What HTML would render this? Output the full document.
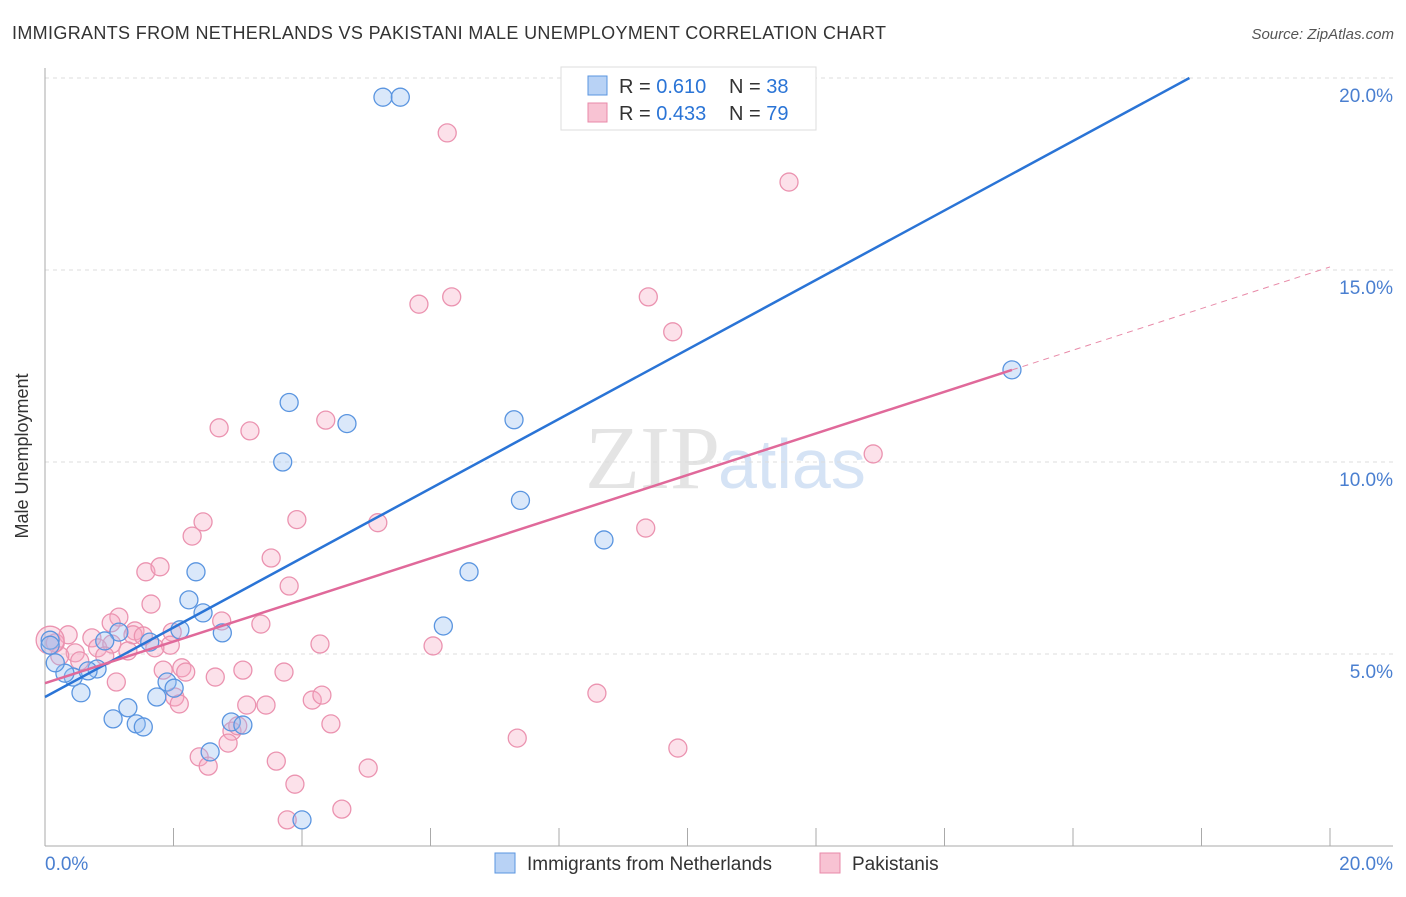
<!DOCTYPE html>
<html><head><meta charset="utf-8"><style>
body{margin:0;background:#fff;font-family:"Liberation Sans",sans-serif;}
</style></head><body>
<svg width="1406" height="892" xmlns="http://www.w3.org/2000/svg" font-family="Liberation Sans, sans-serif">
<text x="12" y="39" font-size="18" fill="#333" textLength="874">IMMIGRANTS FROM NETHERLANDS VS PAKISTANI MALE UNEMPLOYMENT CORRELATION CHART</text>
<text x="1394" y="39" font-size="15" fill="#555" font-style="italic" text-anchor="end">Source: ZipAtlas.com</text>
<text x="720" y="488" font-size="90" fill="#e4e4e4" text-anchor="end" font-family="Liberation Serif, serif">ZIP</text>
<text x="718" y="488" font-size="70" fill="#d5e3f5">atlas</text>
<g id="grid"></g>
<g id="axes"></g>
<g id="points"></g>
<g id="lines"></g>
<text x="28" y="456" font-size="18" fill="#333" text-anchor="middle" transform="rotate(-90 28 456)">Male Unemployment</text>
<g>
<rect x="561" y="67" width="255" height="63" fill="#fff" stroke="#ddd"/>
<rect x="588" y="76" width="19" height="19" fill="#b8d2f5" stroke="#5a95e0"/>
<rect x="588" y="103" width="19" height="19" fill="#f8c3d3" stroke="#e88aa8"/>
<text x="619" y="93" font-size="20" fill="#333">R = <tspan fill="#2a74d6">0.610</tspan></text>
<text x="729" y="93" font-size="20" fill="#333">N = <tspan fill="#2a74d6">38</tspan></text>
<text x="619" y="120" font-size="20" fill="#333">R = <tspan fill="#2a74d6">0.433</tspan></text>
<text x="729" y="120" font-size="20" fill="#333">N = <tspan fill="#2a74d6">79</tspan></text>
</g>
<g>
<rect x="495" y="853" width="20" height="20" fill="#b8d2f5" stroke="#5a95e0"/>
<text x="527" y="870" font-size="19" fill="#333">Immigrants from Netherlands</text>
<rect x="820" y="853" width="20" height="20" fill="#f8c3d3" stroke="#e88aa8"/>
<text x="852" y="870" font-size="19" fill="#333">Pakistanis</text>
</g>
</svg>
<script>
const xTicks=[0,2,4,6,8,10,12,14,16,18,20];
const yTicks=[5,10,15,20];
const blueX=[5.26,5.53,3.8,4.7,3.7,7.3,7.4,8.7,15.05,6.6,6.2,2.35,2.24,2.46,2.76,2.1,1.63,1.15,0.93,0.81,0.44,0.31,0.16,0.08,0.56,1.06,1.29,1.42,1.53,1.74,1.9,2.01,2.9,3.08,2.57,4.0,0.08,0.67];
const blueY=[19.5,19.5,11.55,11.0,10.0,11.1,9.0,7.97,12.4,7.14,5.73,7.14,6.41,6.07,5.55,5.63,5.31,5.57,5.34,4.61,4.4,4.5,4.77,5.36,3.99,3.31,3.6,3.18,3.1,3.88,4.27,4.11,3.23,3.15,2.45,0.68,5.23,4.56];
const pinkX=[6.26,11.58,5.82,6.33,9.39,9.77,4.37,3.19,2.71,12.89,3.92,5.18,9.35,2.46,2.29,3.52,1.57,1.79,3.8,1.65,1.15,1.03,0.73,1.4,1.98,2.75,3.36,1.95,2.13,1.37,1.53,1.71,0.82,1.04,1.29,0.36,0.16,0.47,0.54,0.93,1.84,2.19,3.08,2.65,3.72,1.11,2.02,2.09,3.14,3.44,4.16,4.31,4.28,6.04,8.59,4.45,7.35,9.85,2.91,3.0,2.85,2.4,2.54,3.6,3.89,5.03,4.62,3.77,0.23,0.08];
const pinkY=[18.57,17.29,14.11,14.3,14.3,13.39,11.09,10.81,10.89,10.21,8.5,8.42,8.28,8.44,8.07,7.5,7.14,7.27,6.77,6.3,5.96,5.81,5.42,5.6,5.57,5.86,5.78,5.23,4.64,5.5,5.47,5.16,5.16,5.26,5.08,5.5,5.29,5.03,4.82,4.95,4.58,4.53,4.58,4.4,4.53,4.27,3.88,3.7,3.67,3.67,3.8,3.93,5.26,5.21,3.98,3.18,2.81,2.55,2.99,3.13,2.68,2.32,2.08,2.21,1.61,2.03,0.96,0.68,4.95,5.36];
const blueLine=[3.88,0.905];
const pinkLine=[4.24,0.542];
const X=v=>45+v*64.25, Y=v=>846-v*38.4;
const NS='http://www.w3.org/2000/svg';
function mk(p,t,a){const e=document.createElementNS(NS,t);for(const k in a)e.setAttribute(k,a[k]);p.appendChild(e);return e;}
const grid=document.getElementById('grid'),axes=document.getElementById('axes'),pts=document.getElementById('points'),lines=document.getElementById('lines');
yTicks.forEach(t=>{const l=mk(grid,'line',{x1:45,x2:1393,y1:Y(t),y2:Y(t),stroke:'#ddd','stroke-dasharray':'4 4'});


const tx=mk(axes,'text',{x:1393,y:Y(t)+24,'font-size':19,fill:'#4a7fd0','text-anchor':'end'});tx.textContent=t.toFixed(1)+'%';

});
const ya=mk(axes,'line',{x1:45,x2:45,y1:68,y2:846,stroke:'#aaa'});


const xa=mk(axes,'line',{x1:45,x2:1393,y1:846,y2:846,stroke:'#aaa'});


xTicks.forEach(t=>{const l=mk(axes,'line',{x1:X(t),x2:X(t),y1:828,y2:846,stroke:'#aaa'});

});
[[0,'start'],[20,'end']].forEach(([t,a])=>{const tx=mk(axes,'text',{x:t==0?45:1393,y:870,'font-size':19,fill:'#4a7fd0','text-anchor':a});tx.textContent=t.toFixed(1)+'%';

});
pinkX.forEach((v,i)=>{const c=mk(pts,'circle',{cx:X(v),cy:Y(pinkY[i]),r:i==pinkX.length-1?14:9,fill:'rgba(245,170,195,0.35)',stroke:'#eb93b0','stroke-width':1.3});

});
blueX.forEach((v,i)=>{const c=mk(pts,'circle',{cx:X(v),cy:Y(blueY[i]),r:9,fill:'rgba(150,190,240,0.35)',stroke:'#5a95e0','stroke-width':1.3});

});
const bx2=(20-blueLine[0])/blueLine[1];
const bl=mk(lines,'line',{x1:X(0),y1:Y(blueLine[0]),x2:X(bx2),y2:Y(20),stroke:'#2a74d6','stroke-width':2.5});


const pe=15.05;
const pl=mk(lines,'line',{x1:X(0),y1:Y(pinkLine[0]),x2:X(pe),y2:Y(pinkLine[0]+pinkLine[1]*pe),stroke:'#e0699a','stroke-width':2.5});


const pd=mk(lines,'line',{x1:X(pe),y1:Y(pinkLine[0]+pinkLine[1]*pe),x2:X(20),y2:Y(pinkLine[0]+pinkLine[1]*20),stroke:'#e88aa8','stroke-width':1,'stroke-dasharray':'6 5'});


</script>
</body></html>
